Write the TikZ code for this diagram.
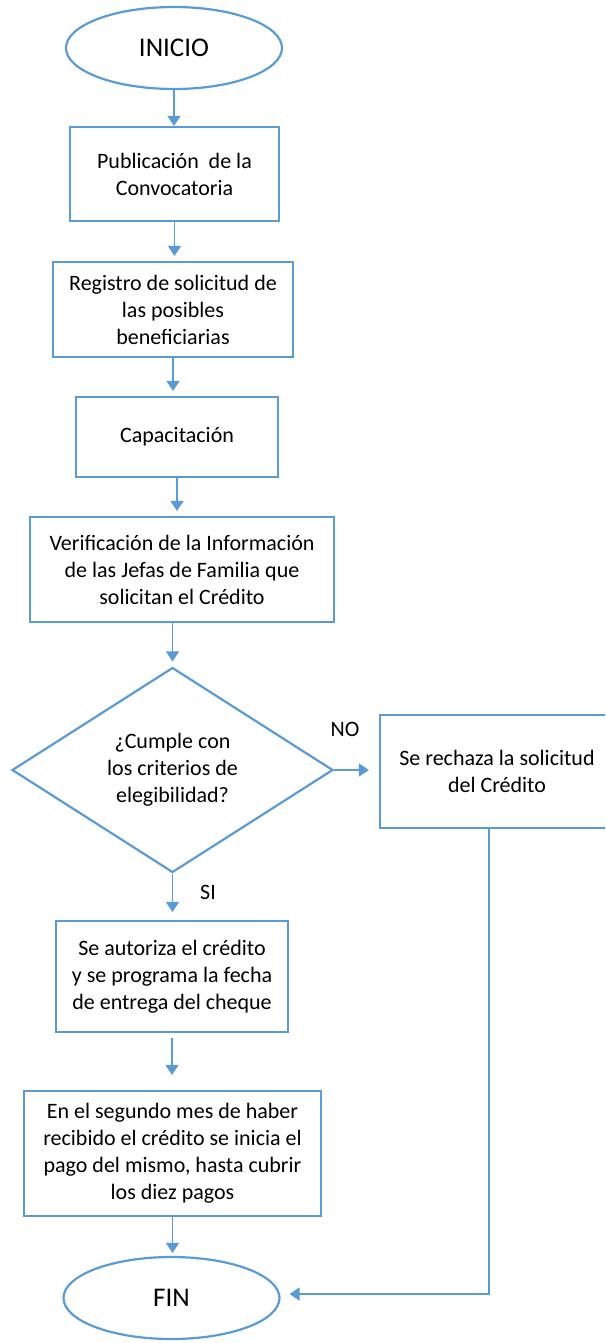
\documentclass[tikz,border=0pt]{standalone}
\usepackage{fontspec}
\setmainfont{Carlito}
\usetikzlibrary{shapes.geometric,arrows.meta}
\definecolor{azul}{HTML}{5B9BD5}
\tikzset{
  caja/.style={draw=azul,line width=1.1pt,rectangle,align=center,
    font=\fontsize{11}{13.5}\selectfont},
  termino/.style={draw=azul,line width=1.1pt,ellipse,
    minimum width=108pt,minimum height=41pt,inner sep=0pt,
    font=\fontsize{13.5}{15}\selectfont},
  flecha/.style={draw=azul,line width=0.75pt,-{Triangle[width=6.5pt,length=5pt]}},
  etiqueta/.style={font=\fontsize{11}{13.5}\selectfont}
}
\begin{document}
\begin{tikzpicture}[x=0.5pt,y=-0.5pt]
      \useasboundingbox (0,0) rectangle (605,1343);
      \clip (0,0) rectangle (605,1343);
      \node[termino] (inicio) at (174,48) {INICIO};
      \node[caja,minimum width=104.5pt,minimum height=47pt] (pub) at (174.5,174)
        {Publicación \ de la\\Convocatoria};
      \node[caja,minimum width=120pt,minimum height=47.5pt] (reg) at (173,309.5)
        {Registro de solicitud de\\las posibles\\beneficiarias};
      \node[caja,minimum width=101pt,minimum height=40pt] (cap) at (177,437)
        {Capacitación};
      \node[caja,minimum width=152pt,minimum height=52.5pt] (verif) at (182,569.5)
        {Verificación de la Información\\de las Jefas de Familia que\\solicitan el Crédito};
      \node[caja,diamond,minimum width=160.5pt,minimum height=102.5pt,inner sep=0pt] (dec) at (172.5,770)
        {¿Cumple con\\los criterios de\\elegibilidad?};
      \node[caja,minimum width=117pt,minimum height=56.5pt] (rech) at (497,771.5)
        {Se rechaza la solicitud\\del Crédito};
      \node[caja,minimum width=116pt,minimum height=55.5pt] (aut) at (172,976.5)
        {Se autoriza el crédito\\y se programa la fecha\\de entrega del cheque};
      \node[caja,minimum width=148.5pt,minimum height=62.5pt] (pago) at (172.5,1153.5)
        {En el segundo mes de haber\\recibido el crédito se inicia el\\pago del mismo, hasta cubrir\\los diez pagos};
      \node[termino] (fin) at (171.5,1298) {FIN};
      \node[etiqueta] (no) at (345,729) {NO};
      \node[etiqueta] (si) at (208,892) {SI};
      \coordinate (codo) at (489,1294);
      \begin{scope}[flecha]
        \draw (inicio.south) to (inicio.south |- pub.north);
        \draw[shorten >=2.5pt] (pub.south) to (pub.south |- reg.north);
        \draw[shorten >=2.5pt] (reg.south) to (reg.south |- cap.north);
        \draw[shorten >=2.5pt] (cap.south) to (cap.south |- verif.north);
        \draw[shorten >=2.5pt] (dec.north |- verif.south) to (dec.north);
        \draw[shorten >=5pt] (dec.east) to (dec.east -| rech.west);
        \draw[shorten >=4pt] (dec.south) to (dec.south |- aut.north);
        \draw[shorten <=2.5pt,shorten >=7.5pt] (aut.south) to (aut.south |- pago.north);
        \draw[shorten >=1.5pt] (pago.south) to (pago.south |- fin.north);
        \draw[shorten >=4.5pt] (rech.south -| codo) -- (codo) -- (fin.east |- codo);
      \end{scope}
    \end{tikzpicture}
\end{document}
